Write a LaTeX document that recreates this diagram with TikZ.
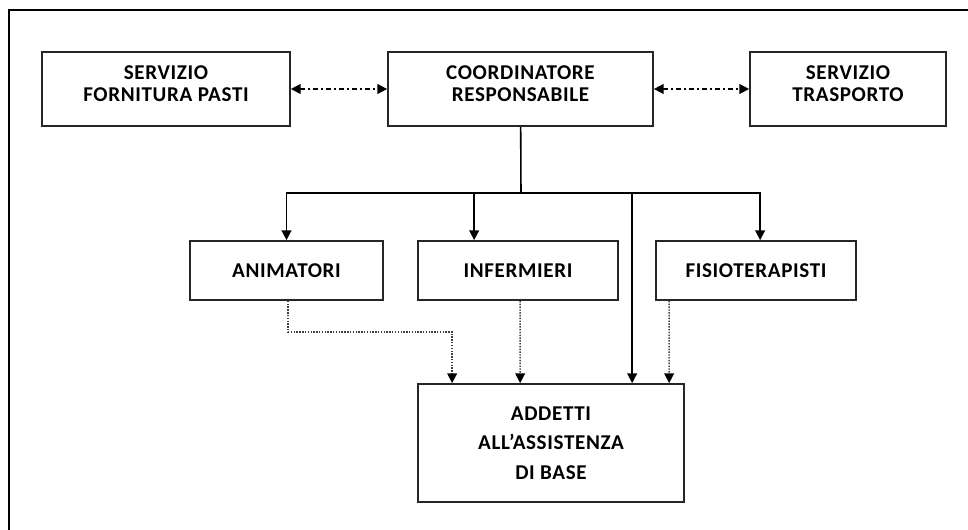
\documentclass[tikz,border=0pt]{standalone}
\usepackage{fontspec}
\setmainfont{Carlito}[LetterSpace=3]
\usepackage{tikz}
\usetikzlibrary{arrows.meta,calc}

\begin{document}
\begin{tikzpicture}[x=0.02cm,y=-0.02cm]
\useasboundingbox (0,0) rectangle (968,530);
\draw[line width=1.4pt] (9,530) -- (9,10) -- (968,10);
	\begin{scope}[every node/.style = {rectangle, draw=black!85, line width=1pt,
		align=center, inner sep=0pt, minimum height=1.48cm,
		font=\bfseries\fontsize{12}{12.4}\selectfont}]
		\node[minimum width=4.96cm,text depth=6.5pt] (FP) at (166,89) {SERVIZIO\\FORNITURA PASTI};
		\node[minimum width=5.30cm,text depth=6.5pt] (CR) at (520.5,89) {COORDINATORE\\RESPONSABILE};
		\node[minimum width=3.92cm,text depth=6.5pt] (ST) at (848,89) {SERVIZIO\\TRASPORTO};
		\node[minimum width=3.86cm,minimum height=1.18cm] (AN) at (286.5,270.5) {ANIMATORI};
		\node[minimum width=4.00cm,minimum height=1.18cm] (IN) at (518,270.5) {INFERMIERI};
		\node[minimum width=4.00cm,minimum height=1.18cm] (FI) at (756,270.5) {FISIOTERAPISTI};
		\node[minimum width=5.32cm,minimum height=2.36cm,
			font=\bfseries\fontsize{12}{16.7}\selectfont] (AD) at (551,443) {ADDETTI\\ALL’ASSISTENZA\\DI BASE};
	\end{scope}
	\coordinate (J) at (521,193);
	\begin{scope}[>={Triangle[length=5.5pt,width=5.5pt,color=black]}, line width=0.9pt]
		\path [<->, dash pattern=on 3pt off 1.7pt on 1pt off 1.7pt] (FP) edge (CR);
		\path [<->, dash pattern=on 3pt off 1.7pt on 1pt off 1.7pt] (CR) edge (ST);
		\draw (CR) -- (J);
		\draw [->] (J) -| (AN);
		\draw [->] (J) -| ($(IN.north west)+(57,0)$);
		\draw [->] (J) -| ($(FI.north west)+(105,0)$);
		\draw [->] (J) -| ($(AD.north west)+(215,0)$);
	\end{scope}
	\begin{scope}[>={Triangle[length=5.5pt,width=5.5pt,color=black]}, line width=0.8pt,
			draw=black!75, dash pattern=on 0.8pt off 0.8pt]
		\draw [->] ($(AN.south west)+(99,0)$) -- ++(0,31) -| ($(AD.north west)+(35,0)$);
		\draw [->] ($(IN.south west)+(103,0)$) -- ($(AD.north west)+(103,0)$);
		\draw [->] ($(FI.south west)+(14,0)$) -- ($(AD.north west)+(252,0)$);
	\end{scope}
\end{tikzpicture}
\end{document}
